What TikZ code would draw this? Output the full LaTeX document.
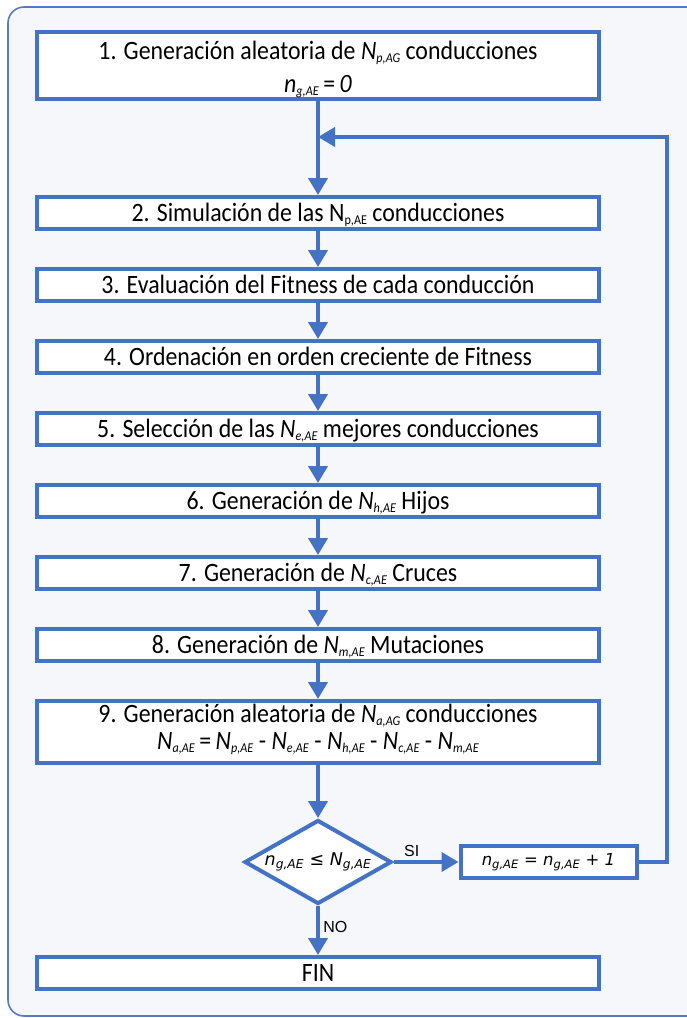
\documentclass[tikz,border=0pt]{standalone}
\usepackage{fontspec}
\setmainfont{Carlito}[FakeStretch=0.9]
\newfontfamily\condfont{DejaVu Sans}[ItalicFont={* Oblique}]
\newfontfamily\labelfont{Liberation Sans}
\usetikzlibrary{shapes.geometric, arrows.meta, positioning}
\definecolor{flowblue}{RGB}{68,114,196}
\definecolor{framebg}{RGB}{245,247,251}
\definecolor{frameblue}{RGB}{84,124,198}
% italic symbol with small subscript (step boxes)
\newcommand{\vsub}[2]{\textit{#1}\raisebox{-3pt}{\fontsize{13.5}{14}\selectfont\textit{#2}}}
% upright symbol with small subscript
\newcommand{\usub}[2]{#1\raisebox{-3pt}{\fontsize{13.5}{14}\selectfont #2}}
% italic symbol with subscript (loop test)
\newcommand{\csub}[2]{\textit{#1}\textsubscript{\textit{#2}}}
\tikzset{
  framebox/.style={
    draw=frameblue, fill=framebg, line width=1.6pt,
    rounded corners=16pt
  },
  stepbox/.style={
    draw=flowblue, fill=white, line width=4pt,
    minimum width=562pt, minimum height=32pt,
    inner sep=2pt, align=center,
    text height=17pt, text depth=0pt,
    font=\fontsize{26.5}{30}\selectfont
  },
  condbox/.style={
    diamond, draw=flowblue, fill=white, line width=4pt,
    aspect=1.7, inner sep=0pt,
    minimum width=147pt, minimum height=84pt,
    font=\condfont\itshape\fontsize{17.5}{20}\selectfont
  },
  incbox/.style={
    draw=flowblue, fill=white, line width=4pt,
    minimum width=176pt, minimum height=32pt,
    font=\condfont\itshape\fontsize{16.5}{19}\selectfont
  },
  flowarrow/.style={
    -{Triangle[length=17pt,width=19pt]},
    draw=flowblue, line width=4pt
  },
  branchlabel/.style={
    font=\labelfont\fontsize{16}{18}\selectfont
  },
}

\begin{document}
\begin{tikzpicture}[x=1pt, y=1pt, node distance=36pt]
    \useasboundingbox (0,0) rectangle (686,-1018);
    \draw[framebox] (8,-7) rectangle (720,-1016);

    %% Steps
    \node[stepbox, minimum height=67pt, text height=58pt, text depth=5pt]
      (g1) at (318,-65.5)
      {1. Generación aleatoria de \vsub{N}{p,AG} conducciones\\[3pt]
       \vsub{n}{g,AE}\,=\,\textit{0}};
    \coordinate[below=36pt of g1] (join);
    \node[stepbox, below=94pt of g1] (g2)
      {2. Simulación de las \usub{N}{p,AE} conducciones};
    \node[stepbox, below=of g2] (g3)
      {3. Evaluación del Fitness de cada conducción};
    \node[stepbox, below=of g3] (g4)
      {4. Ordenación en orden creciente de Fitness};
    \node[stepbox, below=of g4] (g5)
      {5. Selección de las \vsub{N}{e,AE} mejores conducciones};
    \node[stepbox, below=of g5] (g6)
      {6. Generación de \vsub{N}{h,AE} Hijos};
    \node[stepbox, below=of g6] (g7)
      {7. Generación de \vsub{N}{c,AE} Cruces};
    \node[stepbox, below=of g7] (g8)
      {8. Generación de \vsub{N}{m,AE} Mutaciones};
    \node[stepbox, below=of g8, minimum height=62pt, text height=42pt,
      text depth=8pt] (g9)
      {9. Generación aleatoria de \vsub{N}{a,AG} conducciones\\[-3pt]
       \vsub{N}{a,AE}\,=\,\vsub{N}{p,AE} - \vsub{N}{e,AE} - \vsub{N}{h,AE}
       - \vsub{N}{c,AE} - \vsub{N}{m,AE}};

    %% Loop test
    \node[condbox, below=53pt of g9] (dec)
      {\csub{n}{g,AE} ≤ \csub{N}{g,AE}};
    \node[incbox, right=65pt of dec] (inc)
      {\csub{n}{g,AE} = \csub{n}{g,AE} + 1};
    \node[stepbox, below=49pt of dec] (fin) {FIN};

    \draw[flowarrow] (g1) -- (g2);
    \draw[flowarrow] (g2) -- (g3);
    \draw[flowarrow] (g3) -- (g4);
    \draw[flowarrow] (g4) -- (g5);
    \draw[flowarrow] (g5) -- (g6);
    \draw[flowarrow] (g6) -- (g7);
    \draw[flowarrow] (g7) -- (g8);
    \draw[flowarrow] (g8) -- (g9);
    \draw[flowarrow] (g9) -- (dec);

    \draw[flowarrow] (dec.east) -- (inc.west)
      node[branchlabel, pos=0.28, above] {SI};
    \draw[flowarrow] (dec.south) -- (fin.north)
      node[branchlabel, pos=0.42, right] {NO};
    \draw[flowarrow] (inc.east) -- ++(28,0) |- (join);

  \end{tikzpicture}
\end{document}
